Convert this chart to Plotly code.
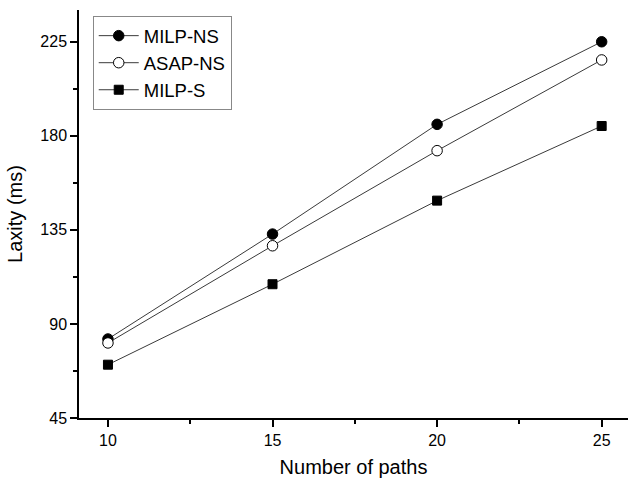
import plotly.graph_objects as go

paths = [10, 15, 20, 25]
milp_ns = [82.8, 133.0, 185.5, 225.0]
asap_ns = [80.9, 127.4, 172.9, 216.3]
milp_s = [70.5, 109.0, 149.0, 184.7]

x_ticks = [10, 15, 20, 25]
y_ticks = [45, 90, 135, 180, 225]
x_range = [9.12, 25.8]
y_range = [45, 240.2]

FONT = "Arial, Liberation Sans, sans-serif"
line_style = dict(color="#3a3a3a", width=1)

fig = go.Figure()
fig.add_trace(go.Scatter(x=paths, y=milp_ns, mode="lines+markers", name="MILP-NS",
                         line=line_style,
                         marker=dict(symbol="circle", size=10.5, color="black",
                                     line=dict(color="black", width=1))))
fig.add_trace(go.Scatter(x=paths, y=asap_ns, mode="lines+markers", name="ASAP-NS",
                         line=line_style,
                         marker=dict(symbol="circle", size=10.5, color="white",
                                     line=dict(color="black", width=1))))
fig.add_trace(go.Scatter(x=paths, y=milp_s, mode="lines+markers", name="MILP-S",
                         line=line_style,
                         marker=dict(symbol="square", size=9, color="black",
                                     line=dict(color="black", width=1))))

axis_common = dict(showgrid=False, zeroline=False, showline=True, linecolor="black",
                   linewidth=1.5, tickcolor="black", tickwidth=1.5,
                   tickfont=dict(family=FONT, size=16, color="black"))

fig.update_layout(
    width=629, height=484,
    margin=dict(l=79, r=1, t=10, b=66),
    paper_bgcolor="white", plot_bgcolor="white",
    font=dict(family=FONT, color="black"),
    showlegend=True,
    legend=dict(x=0.025, y=0.985, xanchor="left", yanchor="top",
                bordercolor="#888888", borderwidth=1, bgcolor="white",
                font=dict(family=FONT, size=18.5, color="black"),
                itemwidth=40, tracegroupgap=0),
    xaxis=dict(range=x_range, tickvals=x_ticks, ticks="outside", ticklen=7,
               minor=dict(tickvals=[12.5, 17.5, 22.5], ticks="outside", ticklen=4,
                          tickcolor="black", tickwidth=1.5),
               title=dict(text="Number of paths", font=dict(family=FONT, size=20, color="black"),
                          standoff=12),
               **axis_common),
    yaxis=dict(range=y_range, tickvals=y_ticks, ticks="outside", ticklen=7,
               minor=dict(tickvals=[67.5, 112.5, 157.5, 202.5], ticks="outside", ticklen=4,
                          tickcolor="black", tickwidth=1.5),
               title=dict(text="Laxity (ms)", font=dict(family=FONT, size=20, color="black"),
                          standoff=12),
               **axis_common),
    xaxis2=dict(overlaying="x", side="top", range=x_range, tickvals=x_ticks,
                ticks="inside", ticklen=7, showticklabels=False, showgrid=False,
                zeroline=False, showline=True, linecolor="black", linewidth=1.5,
                tickcolor="black", tickwidth=1.5),
    yaxis2=dict(overlaying="y", side="right", range=y_range, tickvals=y_ticks,
                ticks="inside", ticklen=7, showticklabels=False, showgrid=False,
                zeroline=False, showline=True, linecolor="black", linewidth=1.5,
                tickcolor="black", tickwidth=1.5),
)

fig.write_html("out.html")
